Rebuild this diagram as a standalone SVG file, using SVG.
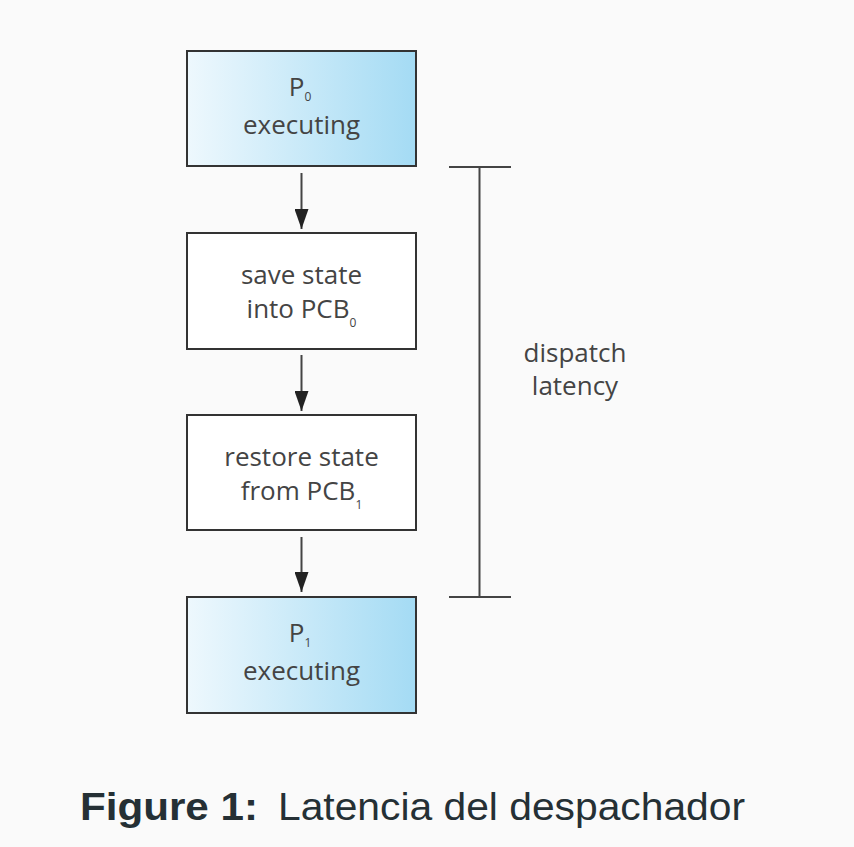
<svg xmlns="http://www.w3.org/2000/svg" width="854" height="847" viewBox="0 0 854 847">
  <defs>
    <linearGradient id="blue" x1="0" y1="0" x2="1" y2="0">
      <stop offset="0" stop-color="#eef8fd"/>
      <stop offset="1" stop-color="#a4dbf4"/>
    </linearGradient>
    <marker id="arr" viewBox="0 0 20 14" refX="20" refY="7" markerWidth="20" markerHeight="14" markerUnits="userSpaceOnUse" orient="auto">
      <path d="M0,0 L20,7 L0,14 Z" fill="#222"/>
    </marker>
    <style>
      .box { stroke: #333; stroke-width: 2; }
      .lbl { font-family: "Open Sans", "Noto Sans", sans-serif; font-size: 26px; fill: #444; text-anchor: middle; }
      .sub { font-size: 12px; fill: #444; }
      .conn { stroke: #444; stroke-width: 2; fill: none; }
      .cap { font-family: "Liberation Sans", "DejaVu Sans", sans-serif; font-size: 38px; fill: #253035; }
    </style>
  </defs>
  <rect width="854" height="847" fill="#fafafa"/>

  <g id="p0">
    <rect class="box" x="187" y="51" width="229" height="115" fill="url(#blue)"/>
    <text class="lbl" x="300" y="96">P<tspan class="sub" dy="5">0</tspan></text>
    <text class="lbl" x="301.5" y="134">executing</text>
  </g>
  <g id="save">
    <rect class="box" x="187" y="233" width="229" height="116" fill="#fff"/>
    <text class="lbl" x="301.5" y="284">save state</text>
    <text class="lbl" x="301.5" y="318">into PCB<tspan class="sub" dy="9">0</tspan></text>
  </g>
  <g id="restore">
    <rect class="box" x="187" y="415" width="229" height="115" fill="#fff"/>
    <text class="lbl" x="301.5" y="466">restore state</text>
    <text class="lbl" x="301.5" y="500">from PCB<tspan class="sub" dy="9">1</tspan></text>
  </g>
  <g id="p1">
    <rect class="box" x="187" y="597" width="229" height="116" fill="url(#blue)"/>
    <text class="lbl" x="300" y="642">P<tspan class="sub" dy="5">1</tspan></text>
    <text class="lbl" x="301.5" y="680">executing</text>
  </g>

  <g id="connectors">
    <line class="conn" x1="301.5" y1="173" x2="301.5" y2="229" marker-end="url(#arr)"/>
    <line class="conn" x1="301.5" y1="355" x2="301.5" y2="411" marker-end="url(#arr)"/>
    <line class="conn" x1="301.5" y1="537" x2="301.5" y2="592" marker-end="url(#arr)"/>
  </g>

  <g id="latency">
    <line class="conn" x1="479.5" y1="167" x2="479.5" y2="597"/>
    <line class="conn" x1="449" y1="167" x2="511" y2="167"/>
    <line class="conn" x1="449" y1="597" x2="511" y2="597"/>
    <text class="lbl" x="575" y="362">dispatch</text>
    <text class="lbl" x="575" y="395">latency</text>
  </g>

  <g id="caption">
    <text class="cap" x="80" y="820" font-weight="bold" textLength="178" lengthAdjust="spacingAndGlyphs">Figure 1:</text>
    <text class="cap" x="278" y="820" textLength="467" lengthAdjust="spacingAndGlyphs">Latencia del despachador</text>
  </g>
</svg>
